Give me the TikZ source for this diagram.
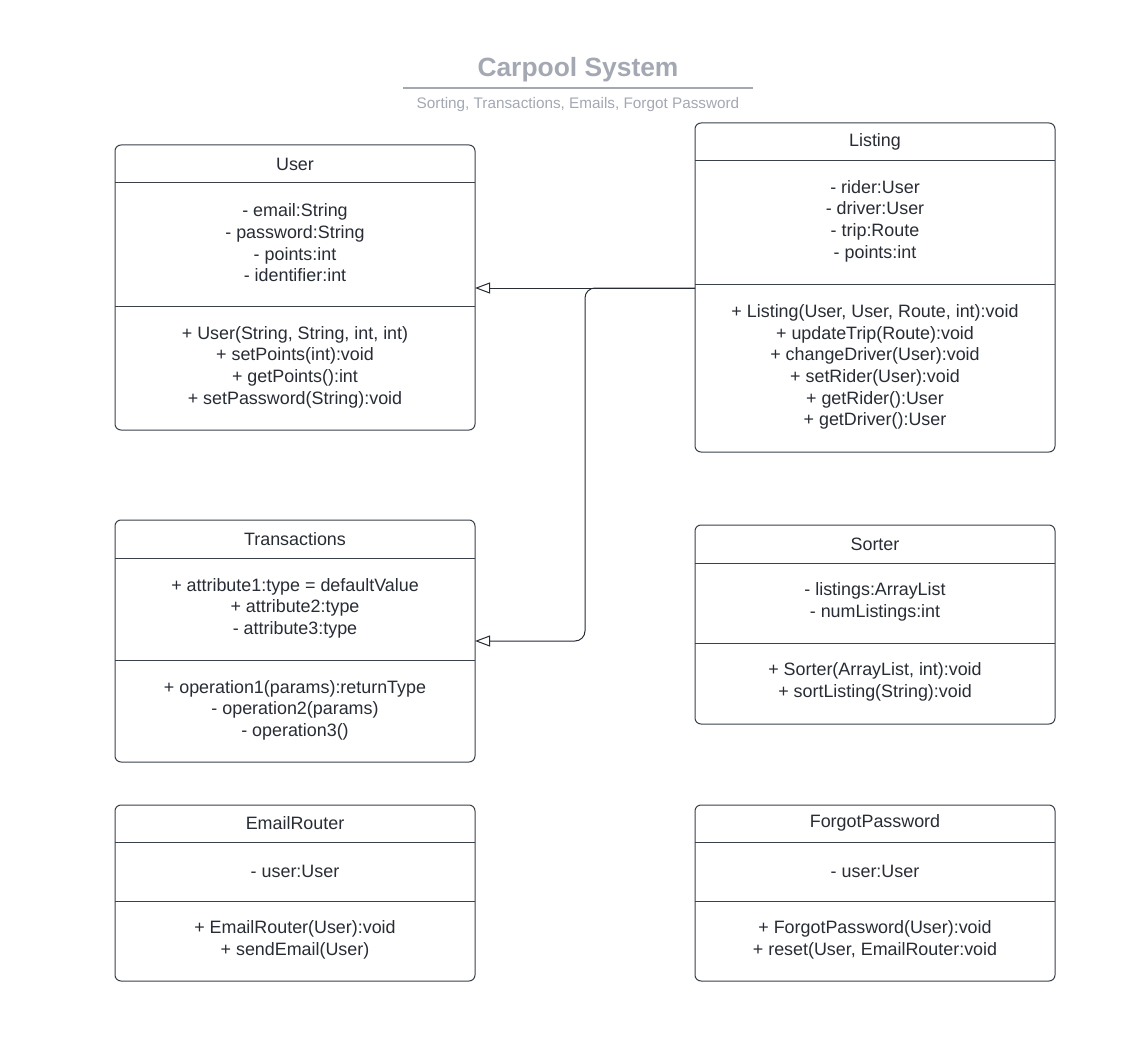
\documentclass[tikz,border=0pt]{standalone}
\usepackage{fontspec}
\setmainfont{Liberation Sans}
\usetikzlibrary{arrows.meta}
\definecolor{titlegray}{RGB}{163,168,179}
\definecolor{ink}{RGB}{40,44,52}
\definecolor{edge}{RGB}{58,65,74}
\begin{document}
\begin{tikzpicture}[x=1pt,y=-1pt,
  classbox/.style={draw=edge, line width=1pt, rounded corners=6pt, inner sep=0pt},
  txt/.style={text=ink, align=center, inner sep=0pt, font=\fontsize{17.9pt}{21.6pt}\selectfont},
  divider/.style={draw=edge, line width=1pt},
  inh/.style={draw=ink, line width=1pt, -{Triangle[open, length=15pt, width=11pt, fill=white]}}
]
\useasboundingbox[fill=white] (0,0) rectangle (1144,1054);

% title
\node[text=titlegray, font=\fontsize{26.4pt}{30pt}\selectfont\bfseries, inner sep=0pt] (title) at (578,70) {Carpool System};
\coordinate (tl) at (403,88);
\coordinate (tr) at (753,88);
\draw[titlegray, line width=2pt] (tl) -- (tr);
\node[text=titlegray, font=\fontsize{15.3pt}{17pt}\selectfont, inner sep=0pt] (subtitle) at (578,105) {Sorting, Transactions, Emails, Forgot Password};

% User
\draw[classbox] (115,145) rectangle (475,430);
\draw[divider] (115,183) -- (475,183);
\draw[divider] (115,306) -- (475,306);
\node[txt] (userT) at (295,164) {User};
\node[txt] (userA) at (295,243) {- email:String\\- password:String\\- points:int\\- identifier:int};
\node[txt] (userM) at (295,367) {+ User(String, String, int, int)\\+ setPoints(int):void\\+ getPoints():int\\+ setPassword(String):void};
\coordinate (userIn) at (475,288);

% Listing
\draw[classbox] (695,123) rectangle (1055,452);
\draw[divider] (695,161) -- (1055,161);
\draw[divider] (695,284) -- (1055,284);
\node[txt] (listT) at (875,142) {Listing};
\node[txt] (listA) at (875,221) {- rider:User\\- driver:User\\- trip:Route\\- points:int};
\node[txt] (listM) at (875,367) {+ Listing(User, User, Route, int):void\\+ updateTrip(Route):void\\+ changeDriver(User):void\\+ setRider(User):void\\+ getRider():User\\+ getDriver():User};
\coordinate (listOut) at (695,288);

% Transactions
\draw[classbox] (115,520) rectangle (475,762);
\draw[divider] (115,558) -- (475,558);
\draw[divider] (115,660) -- (475,660);
\node[txt] (transT) at (295,539) {Transactions};
\node[txt] (transA) at (295,608) {+ attribute1:type = defaultValue\\+ attribute2:type\\- attribute3:type};
\node[txt] (transM) at (295,710) {+ operation1(params):returnType\\- operation2(params)\\- operation3()};
\coordinate (transIn) at (475,641);

% Sorter
\draw[classbox] (695,525) rectangle (1055,724);
\draw[divider] (695,563) -- (1055,563);
\draw[divider] (695,643) -- (1055,643);
\node[txt] (sortT) at (875,544) {Sorter};
\node[txt] (sortA) at (875,602) {- listings:ArrayList\\- numListings:int};
\node[txt] (sortM) at (875,682) {+ Sorter(ArrayList, int):void\\+ sortListing(String):void};

% EmailRouter
\draw[classbox] (115,805) rectangle (475,981);
\draw[divider] (115,842) -- (475,842);
\draw[divider] (115,901) -- (475,901);
\node[txt] (emailT) at (295,823) {EmailRouter};
\node[txt] (emailA) at (295,871) {- user:User};
\node[txt] (emailM) at (295,940) {+ EmailRouter(User):void\\+ sendEmail(User)};

% ForgotPassword
\draw[classbox] (695,805) rectangle (1055,981);
\draw[divider] (695,842) -- (1055,842);
\draw[divider] (695,901) -- (1055,901);
\node[txt] (forgotT) at (875,823) {ForgotPassword};
\node[txt] (forgotA) at (875,871) {- user:User};
\node[txt] (forgotM) at (875,940) {+ ForgotPassword(User):void\\+ reset(User, EmailRouter:void};

% connectors
\draw[inh] (listOut) -- (userIn);
\draw[inh, rounded corners=10pt] (listOut) -- (585,288) -- (585,641) -- (transIn);
\end{tikzpicture}
\end{document}
